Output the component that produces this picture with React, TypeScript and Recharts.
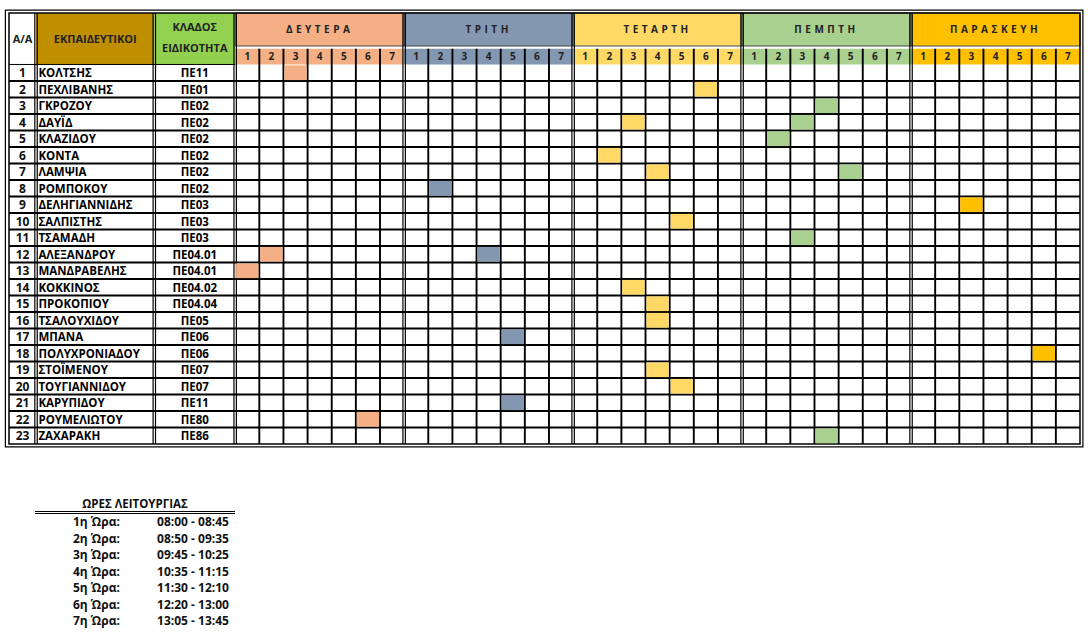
import { ScatterChart, Scatter, XAxis, YAxis, ReferenceArea, ReferenceLine } from 'recharts'

const teachers = [
  'ΚΟΛΤΣΗΣ', 'ΠΕΧΛΙΒΑΝΗΣ', 'ΓΚΡΟΖΟΥ', 'ΔΑΥΪΔ', 'ΚΛΑΖΙΔΟΥ', 'ΚΟΝΤΑ', 'ΛΑΜΨΙΑ', 'ΡΟΜΠΟΚΟΥ',
  'ΔΕΛΗΓΙΑΝΝΙΔΗΣ', 'ΣΑΛΠΙΣΤΗΣ', 'ΤΣΑΜΑΔΗ', 'ΑΛΕΞΑΝΔΡΟΥ', 'ΜΑΝΔΡΑΒΕΛΗΣ', 'ΚΟΚΚΙΝΟΣ', 'ΠΡΟΚΟΠΙΟΥ',
  'ΤΣΑΛΟΥΧΙΔΟΥ', 'ΜΠΑΝΑ', 'ΠΟΛΥΧΡΟΝΙΑΔΟΥ', 'ΣΤΟΪΜΕΝΟΥ', 'ΤΟΥΓΙΑΝΝΙΔΟΥ', 'ΚΑΡΥΠΙΔΟΥ', 'ΡΟΥΜΕΛΙΩΤΟΥ', 'ΖΑΧΑΡΑΚΗ',
]
const specialties = [
  'ΠΕ11', 'ΠΕ01', 'ΠΕ02', 'ΠΕ02', 'ΠΕ02', 'ΠΕ02', 'ΠΕ02', 'ΠΕ02', 'ΠΕ03', 'ΠΕ03', 'ΠΕ03', 'ΠΕ04.01',
  'ΠΕ04.01', 'ΠΕ04.02', 'ΠΕ04.04', 'ΠΕ05', 'ΠΕ06', 'ΠΕ06', 'ΠΕ07', 'ΠΕ07', 'ΠΕ11', 'ΠΕ80', 'ΠΕ86',
]
const days = ['ΔΕΥΤΕΡΑ', 'ΤΡΙΤΗ', 'ΤΕΤΑΡΤΗ', 'ΠΕΜΠΤΗ', 'ΠΑΡΑΣΚΕΥΗ']
const dayColors = ['#F4B084', '#8497B0', '#FFD966', '#A9D08E', '#FFC000']
const periodNumbers = [1, 2, 3, 4, 5, 6, 7]
// [teacher number, day index, period]
const lessons: [number, number, number][] = [
  [1, 0, 3], [2, 2, 6], [3, 3, 4], [4, 2, 3], [4, 3, 3], [5, 3, 2], [6, 2, 2], [7, 2, 4], [7, 3, 5],
  [8, 1, 2], [9, 4, 3], [10, 2, 5], [11, 3, 3], [12, 0, 2], [12, 1, 4], [13, 0, 1], [14, 2, 3],
  [15, 2, 4], [16, 2, 4], [17, 1, 5], [18, 4, 6], [19, 2, 4], [20, 2, 5], [21, 1, 5], [22, 0, 6], [23, 3, 4],
]
const hourLabels = ['1η Ώρα:', '2η Ώρα:', '3η Ώρα:', '4η Ώρα:', '5η Ώρα:', '6η Ώρα:', '7η Ώρα:']
const hourRanges = ['08:00 - 08:45', '08:50 - 09:35', '09:45 - 10:25', '10:35 - 11:15', '11:30 - 12:10', '12:20 - 13:00', '13:05 - 13:45']

// layout: x in period-cell units, y in row units
const COL_AA = 1.12
const COL_NAME = 4.9
const COL_KLADOS = 3.35
const LEFT = COL_AA + COL_NAME + COL_KLADOS
const NP = periodNumbers.length
const X_MAX = LEFT + days.length * NP
const DAY_H = 2.0
const NUM_TOP = 2.17
const HEAD = 3.12
const Y_MAX = HEAD + teachers.length

const W = 1088, H = 452
const M = { top: 13, right: 8, bottom: 8, left: 9 }
const PX_X = (W - M.left - M.right) / X_MAX
const PX_Y = (H - M.top - M.bottom) / Y_MAX
const FONT = '"Open Sans", "Noto Sans", sans-serif'

const cellData = lessons.map(([r, d, p]) => ({ x: LEFT + d * NP + p - 0.5, y: HEAD + r - 0.5, color: dayColors[d] }))
const rowNums = teachers.map((_, i) => ({ x: COL_AA / 2, y: HEAD + i + 0.5, text: String(i + 1) }))
const names = teachers.map((t, i) => ({ x: COL_AA + 0.1, y: HEAD + i + 0.5, text: t }))
const specs = specialties.map((s, i) => ({ x: COL_AA + COL_NAME + COL_KLADOS / 2, y: HEAD + i + 0.5, text: s }))
const headTexts = [
  { x: COL_AA / 2, y: HEAD / 2, text: 'Α/Α' },
  { x: COL_AA + COL_NAME / 2, y: HEAD / 2, text: 'ΕΚΠΑΙΔΕΥΤΙΚΟΙ' },
  { x: COL_AA + COL_NAME + COL_KLADOS / 2, y: 0.85, text: 'ΚΛΑΔΟΣ' },
  { x: COL_AA + COL_NAME + COL_KLADOS / 2, y: 2.12, text: 'ΕΙΔΙΚΟΤΗΤΑ' },
]
const dayTexts = days.map((d, i) => ({ x: LEFT + i * NP + NP / 2, y: DAY_H / 2, text: d }))
const numTexts = days.flatMap((_, d) => periodNumbers.map((p) => ({ x: LEFT + d * NP + p - 0.5, y: (NUM_TOP + HEAD) / 2, text: String(p) })))

const txt = (anchor: string, size: number, spacing = 0, color = '#000') => (p: any) => (
  <text x={p.cx} y={p.cy} dy="0.38em" textAnchor={anchor} fontSize={size} fontWeight={700}
    letterSpacing={spacing} fill={color} fontFamily={FONT}>{p.payload.text}</text>
)

const cellShape = (p: any) => (
  <rect x={p.cx - PX_X / 2 + 0.9} y={p.cy - PX_Y / 2 + 0.9} width={PX_X - 1.8} height={PX_Y - 1.8} fill={p.payload.color} />
)

const seg = (x1: number, y1: number, x2: number, y2: number, key: string, w = 1.9) => (
  <ReferenceLine key={key} segment={[{ x: x1, y: y1 }, { x: x2, y: y2 }]} stroke="#000" strokeWidth={w} ifOverflow="visible" />
)

export default function App() {
  const groupEdges = [COL_AA, COL_AA + COL_NAME, ...days.map((_, d) => LEFT + d * NP)]
  const lines = [
    ...teachers.slice(1).map((_, i) => seg(0, HEAD + i + 1, X_MAX, HEAD + i + 1, 'h' + i)),
    seg(0, HEAD, LEFT, HEAD, 'hh', 1),
    ...days.flatMap((_, d) => periodNumbers.slice(1).map((p) => seg(LEFT + d * NP + p - 1, NUM_TOP, LEFT + d * NP + p - 1, Y_MAX, `v${d}${p}`))),
    ...groupEdges.flatMap((x, i) => [
      seg(x - 0.05, 0, x - 0.05, Y_MAX, 'ga' + i, 1.2),
      seg(x + 0.05, 0, x + 0.05, Y_MAX, 'gb' + i, 1.2),
    ]),
  ]
  return (
    <div style={{ position: 'absolute', left: 0, top: 0, width: W, height: 632, background: '#fff', fontFamily: FONT }}>
      <ScatterChart width={W} height={H} margin={M}>
        <XAxis type="number" dataKey="x" domain={[0, X_MAX]} hide />
        <YAxis type="number" dataKey="y" domain={[0, Y_MAX]} reversed hide />
        <ReferenceArea x1={COL_AA} x2={COL_AA + COL_NAME} y1={0} y2={HEAD} fill="#BF8F00" fillOpacity={1} ifOverflow="visible" />
        <ReferenceArea x1={COL_AA + COL_NAME} x2={LEFT} y1={0} y2={HEAD} fill="#92D050" fillOpacity={1} ifOverflow="visible" />
        {days.map((d, i) => (
          <ReferenceArea key={d} x1={LEFT + i * NP} x2={LEFT + (i + 1) * NP} y1={0} y2={DAY_H}
            fill={dayColors[i]} fillOpacity={1} stroke="#444" strokeWidth={1} ifOverflow="visible" />
        ))}
        {days.map((d, i) => (
          <ReferenceArea key={d + 'n'} x1={LEFT + i * NP} x2={LEFT + (i + 1) * NP} y1={NUM_TOP} y2={HEAD}
            fill={dayColors[i]} fillOpacity={1} ifOverflow="visible" />
        ))}
        <ReferenceArea x1={0} x2={X_MAX} y1={0} y2={Y_MAX} fill="none" stroke="#000" strokeWidth={1.5} ifOverflow="visible" />
        <ReferenceArea x1={-0.15} x2={X_MAX + 0.12} y1={-0.18} y2={Y_MAX + 0.18} fill="none" stroke="#000" strokeWidth={1.2} ifOverflow="visible" />
        {lines}
        <Scatter data={cellData} shape={cellShape} isAnimationActive={false} />
        <Scatter data={rowNums} shape={txt('middle', 12, 0, '#111')} isAnimationActive={false} />
        <Scatter data={names} shape={txt('start', 11.5)} isAnimationActive={false} />
        <Scatter data={specs} shape={txt('middle', 11.5)} isAnimationActive={false} />
        <Scatter data={headTexts} shape={txt('middle', 11, 0, '#222')} isAnimationActive={false} />
        <Scatter data={dayTexts} shape={txt('middle', 10, 3.5, '#222')} isAnimationActive={false} />
        <Scatter data={numTexts} shape={txt('middle', 10, 0, '#222')} isAnimationActive={false} />
      </ScatterChart>
      <div style={{ position: 'absolute', left: 35, top: 496, width: 200, textAlign: 'center', fontSize: 11.5, fontWeight: 700, color: '#111' }}>
        ΩΡΕΣ ΛΕΙΤΟΥΡΓΙΑΣ
      </div>
      <div style={{ position: 'absolute', left: 35, top: 511, width: 200, borderTop: '3px double #000' }} />
      {hourLabels.map((h, i) => (
        <div key={h} style={{ position: 'absolute', left: 0, top: 514 + i * 16.5, height: 16, width: 240, fontSize: 12, fontWeight: 700, color: '#111', lineHeight: '16px' }}>
          <span style={{ position: 'absolute', left: 73 }}>{h}</span>
          <span style={{ position: 'absolute', left: 153, width: 80, textAlign: 'center' }}>{hourRanges[i]}</span>
        </div>
      ))}
    </div>
  )
}
